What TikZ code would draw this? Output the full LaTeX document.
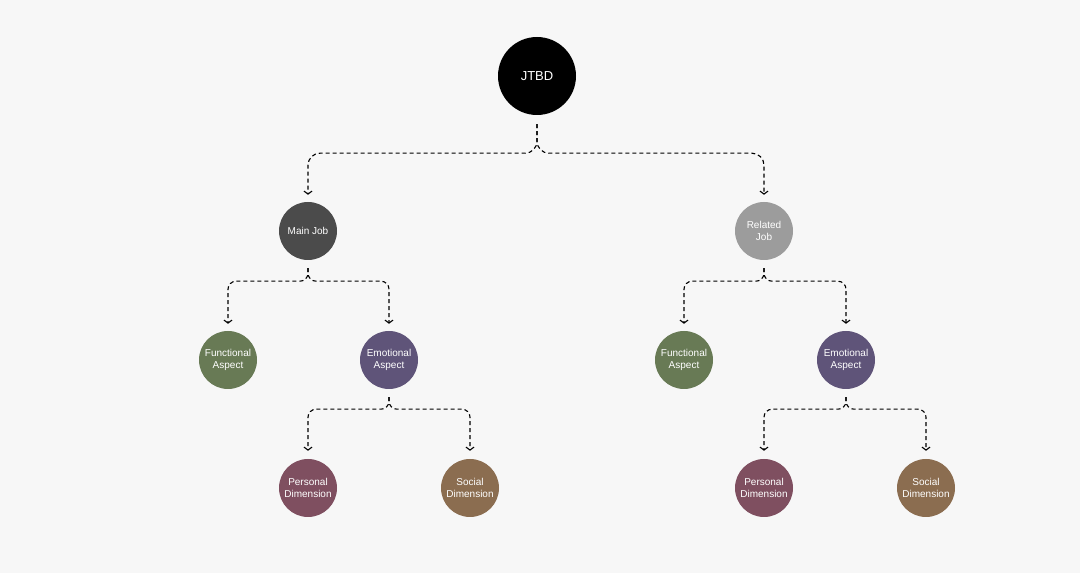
\documentclass[tikz,border=0pt]{standalone}
\usepackage{fontspec}
\setmainfont{Liberation Sans}
\usetikzlibrary{arrows.meta}
\definecolor{bg}{HTML}{F7F7F7}
\definecolor{mainc}{HTML}{4B4B4B}
\definecolor{relc}{HTML}{9C9C9C}
\definecolor{funcc}{HTML}{687A55}
\definecolor{emoc}{HTML}{5F5479}
\definecolor{persc}{HTML}{7F4F60}
\definecolor{socc}{HTML}{8B6D50}
\tikzset{dot/.style={circle,inner sep=0pt,minimum size=58pt,text=white,align=center,font=\fontsize{10}{12.5}\selectfont},
         link/.style={line width=1.1pt,dash pattern=on 4pt off 3pt,rounded corners=8pt,-{Straight Barb[length=3pt,width=8pt,line width=1.1pt]}}}
\begin{document}
\begin{tikzpicture}[x=1pt,y=1pt]
\fill[bg] (0,0) rectangle (1080,573);
\node[dot,fill=black,minimum size=78pt,font=\fontsize{13}{15}\selectfont] (jtbd) at (537,497) {JTBD};
\node[dot,fill=mainc] (main) at (308,342) {Main Job};
\node[dot,fill=relc] (rel) at (764,342) {Related\\Job};
\node[dot,fill=funcc] (funcL) at (228,213) {Functional\\Aspect};
\node[dot,fill=emoc] (emoL) at (389,213) {Emotional\\Aspect};
\node[dot,fill=funcc] (funcR) at (684,213) {Functional\\Aspect};
\node[dot,fill=emoc] (emoR) at (846,213) {Emotional\\Aspect};
\node[dot,fill=persc] (persL) at (308,85) {Personal\\Dimension};
\node[dot,fill=socc] (socL) at (470,85) {Social\\Dimension};
\node[dot,fill=persc] (persR) at (764,85) {Personal\\Dimension};
\node[dot,fill=socc] (socR) at (926,85) {Social\\Dimension};
% top split
\foreach \c in {main,rel}
  \draw[link,rounded corners=12pt] ([yshift=-9pt]jtbd.south) -- ++(0,-29) -| ([yshift=7pt]\c.north);
% job level
\foreach \p/\c in {main/funcL,main/emoL,rel/funcR,rel/emoR}
  \draw[link] ([yshift=-8pt]\p.south) -- ++(0,-13) -| ([yshift=7pt]\c.north);
% emotional level
\foreach \p/\c in {emoL/persL,emoL/socL,emoR/persR,emoR/socR}
  \draw[link] ([yshift=-8pt]\p.south) -- ++(0,-12) -| ([yshift=8pt]\c.north);
\end{tikzpicture}
\end{document}
